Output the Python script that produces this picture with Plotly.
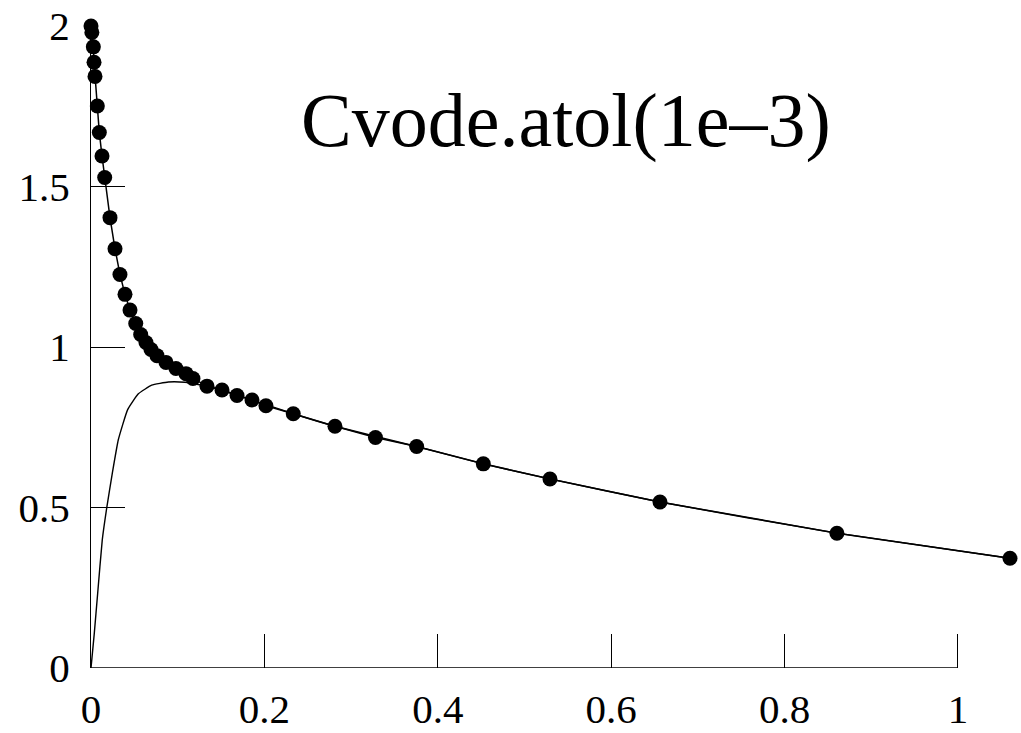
import plotly.graph_objects as go

# Main solution (dots connected by straight segments)
main_t = [0.0, 0.001, 0.0027, 0.0035, 0.0046, 0.0073, 0.0096, 0.0127, 0.0158,
          0.0219, 0.0277, 0.0334, 0.0392, 0.045, 0.0516, 0.0573, 0.0634, 0.0692,
          0.0761, 0.0865, 0.098, 0.1096, 0.1176, 0.1338, 0.1511, 0.1684, 0.1857,
          0.2018, 0.2333, 0.2814, 0.3281, 0.3756, 0.4525, 0.5294, 0.6563, 0.8604,
          1.060]
main_y = [2.0, 1.98, 1.935, 1.887, 1.843, 1.751, 1.668, 1.595, 1.528,
          1.403, 1.306, 1.226, 1.164, 1.115, 1.073, 1.039, 1.014, 0.992,
          0.973, 0.952, 0.933, 0.917, 0.902, 0.878, 0.866, 0.849, 0.835,
          0.817, 0.792, 0.753, 0.718, 0.690, 0.636, 0.589, 0.517, 0.420,
          0.342]

# Thin reference curve starting at zero
ref_t = [0.0, 0.0038, 0.0077, 0.013, 0.0181, 0.0246, 0.0315, 0.0423, 0.0546,
         0.07, 0.0892, 0.1084, 0.1238, 0.1511, 0.1857, 0.2333, 0.2814, 0.3756,
         0.4525, 0.5294, 0.6563, 0.8604, 1.060]
ref_y = [0.0, 0.108, 0.233, 0.399, 0.498, 0.607, 0.711, 0.805, 0.854,
         0.881, 0.891, 0.890, 0.883, 0.866, 0.835, 0.792, 0.753, 0.690,
         0.636, 0.589, 0.517, 0.420, 0.342]

x_ticks = [0, 0.2, 0.4, 0.6, 0.8, 1]
x_labels = ["0", "0.2", "0.4", "0.6", "0.8", "1"]
y_ticks = [0, 0.5, 1, 1.5, 2]
y_labels = ["0", "0.5", "1", "1.5", "2"]

title_text = "Cvode.atol(1e–3)"

FONT = "Liberation Serif, Times New Roman, serif"

fig = go.Figure()
fig.add_trace(go.Scatter(x=ref_t, y=ref_y, mode="lines",
                         line=dict(color="black", width=1.4, shape="spline", smoothing=0.4),
                         hoverinfo="skip", showlegend=False))
fig.add_trace(go.Scatter(x=main_t, y=main_y, mode="lines+markers",
                         line=dict(color="black", width=1.5),
                         marker=dict(color="black", size=15),
                         cliponaxis=False, showlegend=False))

fig.add_shape(type="line", xref="x", yref="y", x0=0, y0=0, x1=1, y1=0,
              line=dict(color="black", width=1.3))

fig.add_annotation(x=0.548, y=1.707, xref="x", yref="y", text=title_text,
                   showarrow=False, xanchor="center", yanchor="middle",
                   font=dict(family=FONT, size=76, color="black"))

fig.update_layout(
    width=1021, height=733,
    margin=dict(l=91, r=2, t=26, b=65),
    paper_bgcolor="white", plot_bgcolor="white",
    font=dict(family=FONT, size=41, color="black"),
    showlegend=False,
)
fig.update_xaxes(range=[0, 1.0704], showgrid=False, zeroline=False, showline=False,
                 tickvals=x_ticks, ticktext=x_labels, ticks="inside", ticklen=34,
                 tickwidth=1.3, tickcolor="black", ticklabelstandoff=13,
                 tickfont=dict(family=FONT, size=41, color="black"))
fig.update_yaxes(range=[0, 2], showgrid=False, zeroline=False, showline=True,
                 linecolor="black", linewidth=1.3,
                 tickvals=y_ticks, ticktext=y_labels, ticks="inside", ticklen=34,
                 tickwidth=1.3, tickcolor="black", ticklabelstandoff=12,
                 tickfont=dict(family=FONT, size=41, color="black"))

fig.write_html("out.html")
